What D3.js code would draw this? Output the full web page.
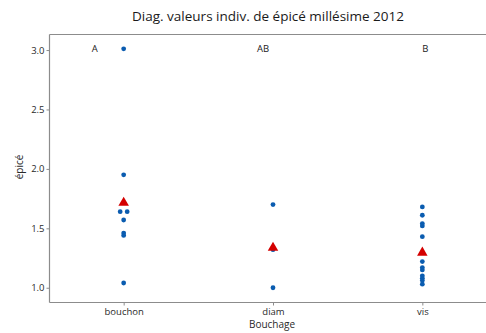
<!DOCTYPE html>
<html>
<head>
<meta charset="utf-8">
<script src="https://cdn.jsdelivr.net/npm/d3@7"></script>
<style>
  html, body { margin: 0; padding: 0; background: #fff; overflow: hidden; }
  svg { display: block; font-family: "Open Sans", "Noto Sans", sans-serif; }
</style>
</head>
<body>
<svg id="chart" width="486" height="333"></svg>
<script>
// Individual values of "épicé" per closure type, vintage 2012
const categories = ["bouchon", "diam", "vis"];
const groupLetters = ["A", "AB", "B"];
const bouchonValues = [3.01, 1.95, 1.64, 1.64, 1.57, 1.46, 1.44, 1.04];
const diamValues = [1.70, 1.32, 1.00];
const visValues = [1.68, 1.61, 1.54, 1.52, 1.43, 1.22, 1.17, 1.15, 1.10, 1.08, 1.06, 1.03];
const yTicks = [1.0, 1.5, 2.0, 2.5, 3.0];

const seriesValues = [bouchonValues, diamValues, visValues];

const svg = d3.select("#chart");
const W = 486, H = 333;
const plotLeft = 49, plotTop = 34, plotBottom = 302, plotRight = 497;

const x = d3.scalePoint()
  .domain(categories)
  .range([plotLeft, plotRight])
  .padding(0.5);

const y = d3.scaleLinear()
  .domain([0.88, 3.135])
  .range([plotBottom, plotTop]);

const blue = "#0a5cb0";
const red = "#d40000";
const axisGrey = "#8c8c8c";
const textCol = "#2a2a2a";

// Title
svg.append("text")
  .attr("x", 268).attr("y", 21)
  .attr("text-anchor", "middle")
  .attr("font-size", 13.5)
  .attr("fill", "#1a1a1a")
  .text("Diag. valeurs indiv. de épicé millésime 2012");

// Plot frame (its right side lies beyond the visible area)
const frame = svg.append("g")
  .attr("stroke", axisGrey)
  .attr("stroke-width", 1.2)
  .attr("fill", "none");
frame.append("line")
  .attr("x1", plotLeft + 0.5).attr("x2", plotLeft + 0.5)
  .attr("y1", plotTop + 0.5).attr("y2", plotBottom + 0.5);
frame.append("line")
  .attr("x1", plotLeft + 0.5).attr("x2", W + 2)
  .attr("y1", plotTop + 0.5).attr("y2", plotTop + 0.5);
frame.append("line")
  .attr("x1", plotLeft + 0.5).attr("x2", W + 2)
  .attr("y1", plotBottom + 0.5).attr("y2", plotBottom + 0.5);

// Y axis
const yAxis = d3.axisLeft(y)
  .tickValues(yTicks)
  .tickFormat(d3.format(".1f"))
  .tickSize(3)
  .tickPadding(2);
const gy = svg.append("g")
  .attr("transform", `translate(${plotLeft + 0.5},0)`)
  .call(yAxis);
gy.select(".domain").remove();
gy.selectAll(".tick line").attr("stroke", axisGrey);
gy.selectAll(".tick text")
  .attr("font-size", 9.5)
  .attr("fill", textCol)
  .style("font-family", "'Open Sans', 'Noto Sans', sans-serif");

// X axis
const xAxis = d3.axisBottom(x).tickSize(3).tickPadding(3);
const gx = svg.append("g")
  .attr("transform", `translate(0,${plotBottom + 0.5})`)
  .call(xAxis);
gx.select(".domain").remove();
gx.selectAll(".tick line").attr("stroke", axisGrey);
gx.selectAll(".tick text")
  .attr("font-size", 9.5)
  .attr("fill", textCol)
  .style("font-family", "'Open Sans', 'Noto Sans', sans-serif");

// Axis titles
svg.append("text")
  .attr("x", 272).attr("y", 328)
  .attr("text-anchor", "middle")
  .attr("font-size", 10)
  .attr("fill", textCol)
  .text("Bouchage");

svg.append("text")
  .attr("transform", `translate(23,167) rotate(-90)`)
  .attr("text-anchor", "middle")
  .attr("font-size", 10)
  .attr("fill", textCol)
  .text("épicé");

// Grouping letters
svg.selectAll("text.grp")
  .data(categories)
  .enter().append("text")
  .attr("class", "grp")
  .attr("x", (d, i) => x(d) + [-29, -10, 3][i])
  .attr("y", 52)
  .attr("text-anchor", "middle")
  .attr("font-size", 9.5)
  .attr("fill", "#1a1a1a")
  .text((d, i) => groupLetters[i]);

// Individual points; tied values are spread side by side
const points = [];
categories.forEach((c, i) => {
  const counts = d3.rollup(seriesValues[i], v => v.length, v => v);
  const seen = new Map();
  seriesValues[i].forEach(v => {
    const n = counts.get(v);
    const k = seen.get(v) || 0;
    seen.set(v, k + 1);
    points.push({ cat: c, value: v, dx: (k - (n - 1) / 2) * 7 });
  });
});

svg.append("g").selectAll("circle")
  .data(points)
  .enter().append("circle")
  .attr("cx", d => x(d.cat) + d.dx)
  .attr("cy", d => y(d.value))
  .attr("r", 2.4)
  .attr("fill", blue);

// Group means
const means = categories.map((c, i) => ({ cat: c, value: d3.mean(seriesValues[i]) }));
svg.append("g").selectAll("path")
  .data(means)
  .enter().append("path")
  .attr("d", d3.symbol().type(d3.symbolTriangle).size(48))
  .attr("transform", d => `translate(${x(d.cat)},${y(d.value) + 0.5})`)
  .attr("fill", red);
</script>
</body>
</html>
